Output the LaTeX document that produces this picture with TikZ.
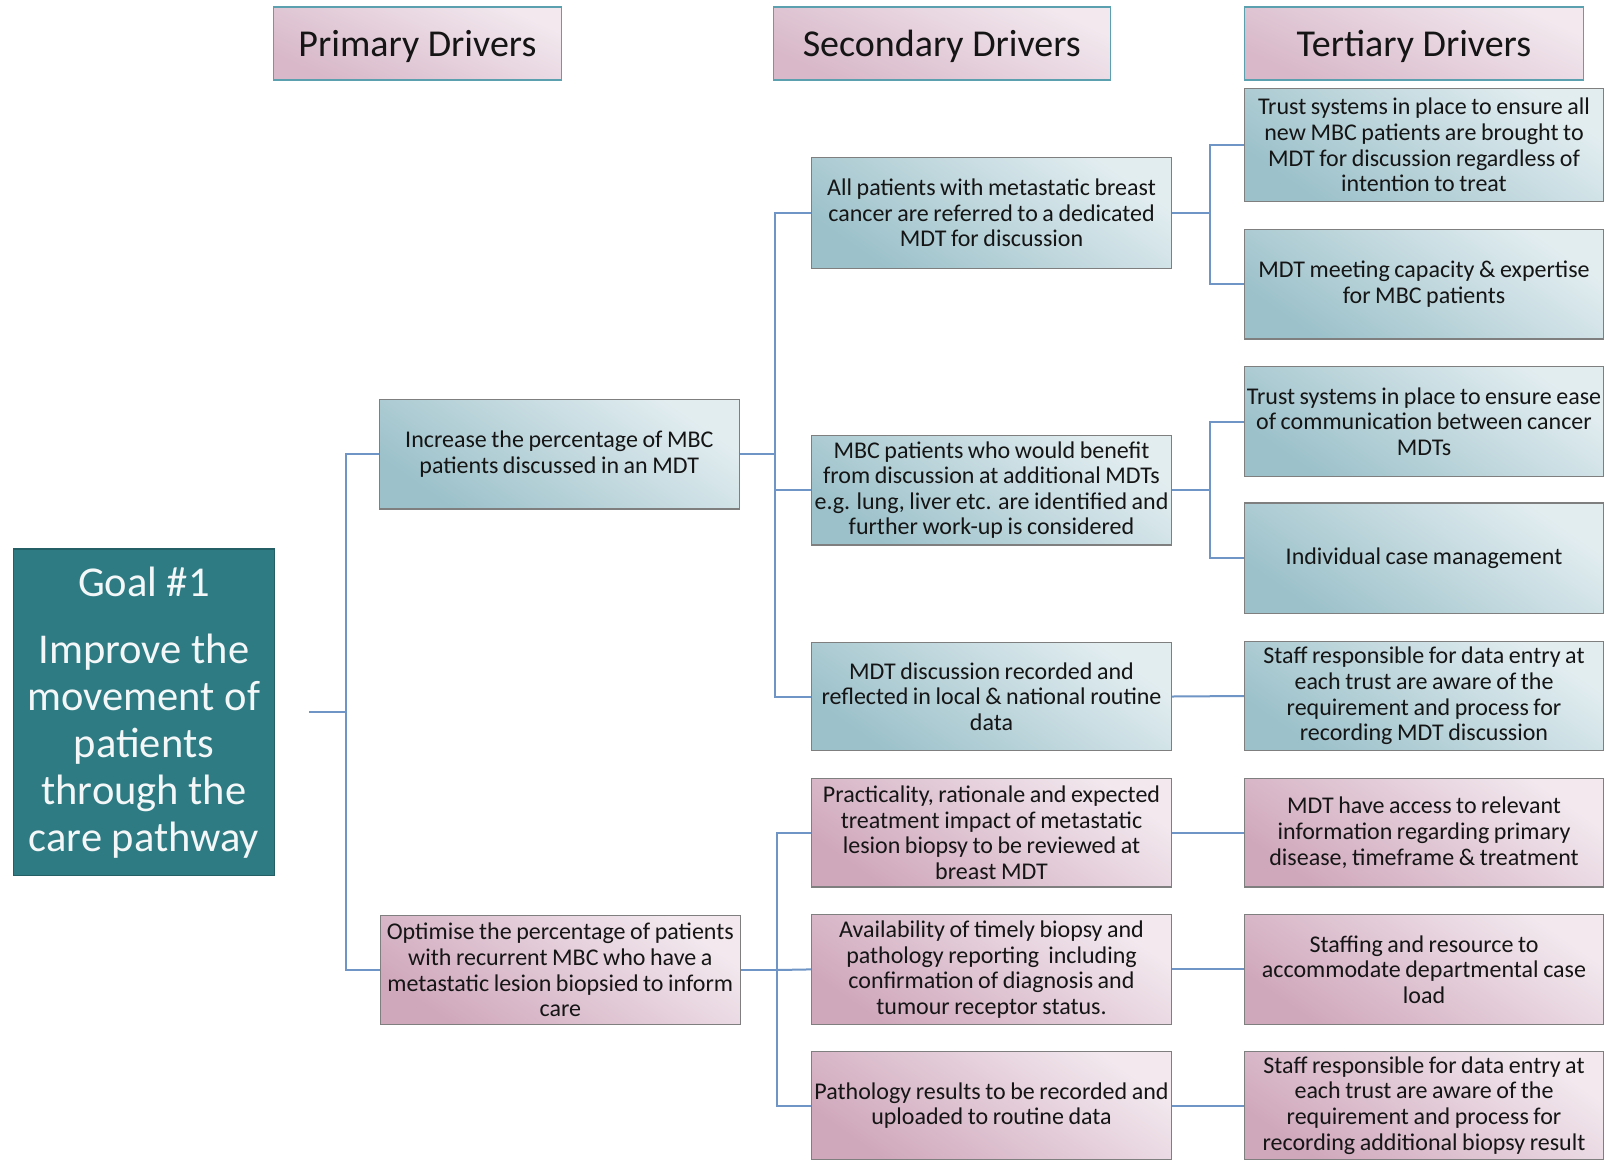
\documentclass[tikz,border=0pt]{standalone}
\usepackage{fontspec}
\setmainfont{Carlito}
\newcommand\boxfont{\fontsize{24}{25.6}\selectfont\fontdimen2\font=0.19em\relax}
\definecolor{blueL}{HTML}{E2EDF0}
\definecolor{blueD}{HTML}{9CC1CA}
\definecolor{pinkL}{HTML}{F2E8EE}
\definecolor{pinkD}{HTML}{D0A8BC}
\definecolor{pinkH}{HTML}{D8B8C9}
\definecolor{boxborder}{HTML}{7F7F7F}
\definecolor{hdrborder}{HTML}{5AA0AE}
\definecolor{goalfill}{HTML}{2E7B83}
\definecolor{goalborder}{HTML}{245F66}
\definecolor{linecol}{HTML}{6E95C6}
\definecolor{textcol}{HTML}{151515}
\tikzset{
  box/.style={draw=boxborder, line width=1.2pt, inner sep=0pt, align=center,
    font=\boxfont, text=textcol, minimum width=360pt},
  bluebox/.style={box, top color=blueL, bottom color=blueD, shading angle=-35},
  pinkbox/.style={box, top color=pinkL, bottom color=pinkD, shading angle=-35},
  hdr/.style={draw=hdrborder, line width=1.5pt, inner sep=0pt, top color=pinkL, bottom color=pinkH,
    shading angle=-25, minimum height=72.7pt, text=textcol, font=\fontsize{38}{40}\selectfont,
    text height=25pt, text depth=0pt},
  goalbox/.style={draw=goalborder, line width=1.2pt, fill=goalfill, inner sep=0pt, align=center,
    text=white!94!goalfill, font=\fontsize{42.5}{47}\selectfont,
    minimum width=261pt, minimum height=326.7pt},
  conn/.style={draw=linecol, line width=2pt},
}
\begin{document}
\begin{tikzpicture}[x=1pt, y=-1pt]
\useasboundingbox (0,0) rectangle (1606,1160);
\fill[white] (0,0) rectangle (1606,1160);

% headers
\node[hdr, minimum width=287.8pt] (h1) at (417.4,43.5) {Primary Drivers};
\node[hdr, minimum width=337pt] (h2) at (941.8,43.5) {Secondary Drivers};
\node[hdr, minimum width=339pt] (h3) at (1413.9,43.5) {Tertiary Drivers};

% goal
\node[goalbox] (goal) at (143.9,712.4) {Goal \#1\\[20pt]Improve the\\movement of\\patients\\through the\\care pathway};

% primary
\node[bluebox, minimum height=109.5pt] (p1) at (559.3,454.2) {Increase the percentage of MBC\\patients discussed in an MDT};
\node[pinkbox, minimum height=108.5pt] (p2) at (560.3,970) {Optimise the percentage of patients\\with recurrent MBC who have a\\metastatic lesion biopsied to inform\\care};

% secondary
\node[bluebox, minimum height=110.6pt] (s1) at (991.5,213) {All patients with metastatic breast\\cancer are referred to a dedicated\\MDT for discussion};
\node[bluebox, minimum height=109.6pt] (s2) at (991.5,490.1) {MBC patients who would benefit\\from discussion at additional MDTs\\e.g. lung, liver etc. are identified and\\further work-up is considered};
\node[bluebox, minimum height=108.6pt] (s3) at (991.5,696.5) {MDT discussion recorded and\\reflected in local \& national routine\\data};
\node[pinkbox, minimum height=108.6pt] (s4) at (991.5,832.7) {Practicality, rationale and expected\\treatment impact of metastatic\\lesion biopsy to be reviewed at\\breast MDT};
\node[pinkbox, minimum height=109.6pt] (s5) at (991.5,969.4) {Availability of timely biopsy and\\pathology reporting\ \ including\\confirmation of diagnosis and\\tumour receptor status.};
\node[pinkbox, minimum height=108pt] (s6) at (991.5,1105.5) {Pathology results to be recorded and\\uploaded to routine data};

% tertiary
\node[bluebox, minimum width=359pt, minimum height=113.7pt] (t1) at (1424,145) {Trust systems in place to ensure all\\new MBC patients are brought to\\MDT for discussion regardless of\\intention to treat};
\node[bluebox, minimum width=359pt, minimum height=109.6pt] (t2) at (1424,284.2) {MDT meeting capacity \& expertise\\for MBC patients};
\node[bluebox, minimum width=359pt, minimum height=109.6pt] (t3) at (1424,421.5) {Trust systems in place to ensure ease\\of communication between cancer\\MDTs};
\node[bluebox, minimum width=359pt, minimum height=110.6pt] (t4) at (1424,558.2) {Individual case management};
\node[bluebox, minimum width=359pt, minimum height=109.6pt] (t5) at (1424,696) {Staff responsible for data entry at\\each trust are aware of the\\requirement and process for\\recording MDT discussion};
\node[pinkbox, minimum width=359pt, minimum height=108.6pt] (t6) at (1424,832.7) {MDT have access to relevant\\information regarding primary\\disease, timeframe \& treatment};
\node[pinkbox, minimum width=359pt, minimum height=109.6pt] (t7) at (1424,969.4) {Staffing and resource to\\accommodate departmental case\\load};
\node[pinkbox, minimum width=359pt, minimum height=108pt] (t8) at (1424,1105.5) {Staff responsible for data entry at\\each trust are aware of the\\requirement and process for\\recording additional biopsy result};

% connectors
\coordinate (gstub) at (309,712.4);
\coordinate (b0) at (346,712.4);
\draw[conn] (gstub) -- (b0);
\draw[conn] (p1.west) -| (b0) |- (p2.west);

\coordinate (b1) at (775.3,454.2);
\draw[conn] (p1.east) -- (b1);
\draw[conn] (s1.west) -| (b1) |- (s3.west);
\draw[conn] (b1 |- s2.west) -- (s2.west);

\coordinate (b2) at (777.3,970);
\draw[conn] (p2.east) -- (b2);
\draw[conn] (s4.west) -| (b2) |- (s6.west);
\draw[conn] (b2) -- (s5.west);

\coordinate (b3) at (1209.6,213);
\draw[conn] (s1.east) -- (b3);
\draw[conn] (t1.west) -| (b3) |- (t2.west);

\coordinate (b4) at (1209.6,490.1);
\draw[conn] (s2.east) -- (b4);
\draw[conn] (t3.west) -| (b4) |- (t4.west);

\draw[conn] (s3.east) -- (t5.west);
\draw[conn] (s4.east) -- (t6.west);
\draw[conn] (s5.east) -- (t7.west);
\draw[conn] (s6.east) -- (t8.west);
\end{tikzpicture}
\end{document}
